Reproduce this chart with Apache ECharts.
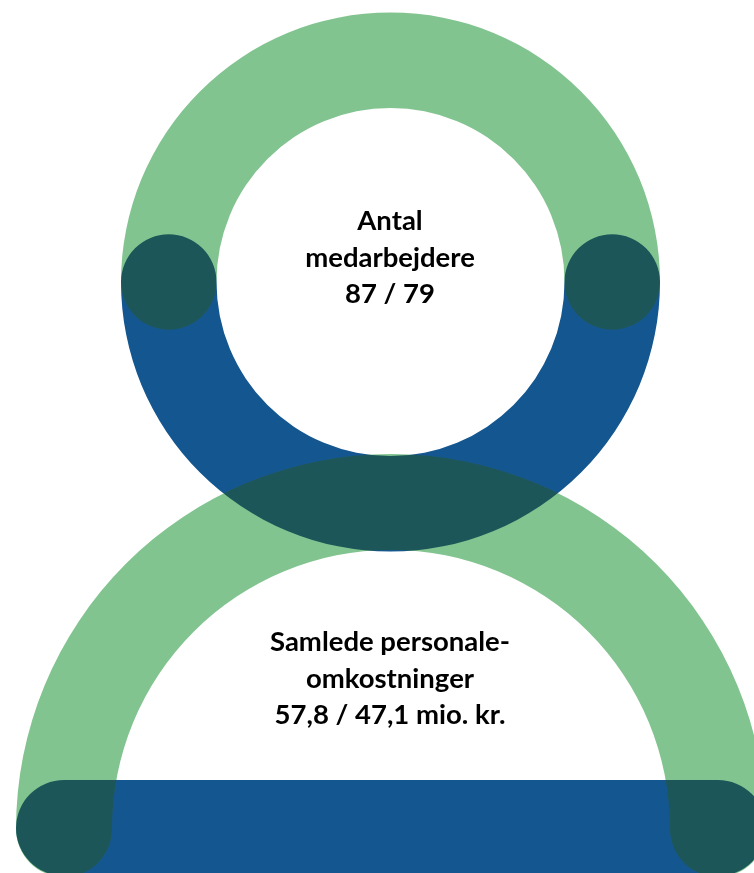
<!DOCTYPE html>
<html>
<head>
<meta charset="utf-8">
<style>
  html, body { margin: 0; padding: 0; background: #fff; overflow: hidden; }
  /* wider than the window: the body shape runs off the right and bottom edges */
  #chart { width: 800px; height: 900px; }
</style>
</head>
<body>
<div id="chart"></div>
<script src="https://cdn.jsdelivr.net/npm/echarts@6/dist/echarts.min.js"></script>
<script>
// share of each half ring, out of 100
const headTopShare = [50]
const headBottomShare = [50]
const bodyTopShare = [50]
// the flat base runs the full length of the axis
const baseShare = [100]

const headLabel = ['Antal', 'medarbejdere', '87 / 79']
const bodyLabel = ['Samlede personale-', 'omkostninger', '57,8 / 47,1 mio. kr.']

const GREEN = '#82c490'
const BLUE = '#14568f'
const DARK = '#1d5659'

const HEAD = { center: [390.5, 282], radius: [174, 269.5] }
const BODY = { center: [391, 829], radius: [279, 375] }

const polar = []
const angleAxis = []
const radiusAxis = []
const series = []

function addRing(shape, startAngle, values, color, blendMode, z) {
  const i = polar.length
  polar.push({ center: shape.center, radius: shape.radius })
  angleAxis.push({ polarIndex: i, show: false, startAngle, min: 0, max: 100 })
  radiusAxis.push({ polarIndex: i, show: false, type: 'category', data: [''] })
  series.push({
    type: 'bar',
    coordinateSystem: 'polar',
    polarIndex: i,
    data: values,
    barWidth: '100%',
    roundCap: true,
    silent: true,
    z,
    blendMode,
    itemStyle: { color },
  })
}

// blue shapes go down first
addRing(HEAD, 0, headBottomShare, BLUE, 'source-over', 2)
series.push({
  type: 'bar',
  xAxisIndex: 0,
  yAxisIndex: 0,
  data: baseShare,
  barWidth: '100%',
  silent: true,
  z: 2,
  itemStyle: { color: BLUE, borderRadius: 48 },
})
// green shapes: dark where they sit on blue, plain green behind everything else
addRing(HEAD, 180, headTopShare, DARK, 'source-atop', 3)
addRing(BODY, 180, bodyTopShare, DARK, 'source-atop', 3)
addRing(HEAD, 180, headTopShare, GREEN, 'destination-over', 4)
addRing(BODY, 180, bodyTopShare, GREEN, 'destination-over', 4)

const labelStyle = {
  color: '#000',
  fontFamily: 'Lato',
  fontWeight: 'bold',
  fontSize: 27.5,
  lineHeight: 36.5,
  align: 'center',
}

const chart = echarts.init(document.getElementById('chart'), null, { renderer: 'canvas' })
chart.setOption({
  animation: false,
  backgroundColor: 'transparent',
  tooltip: { show: false },
  title: [
    { text: headLabel.join('\n'), left: 390, top: 203, textAlign: 'center', padding: 0, textStyle: labelStyle, z: 10 },
    { text: bodyLabel.join('\n'), left: 390, top: 624, textAlign: 'center', padding: 0, textStyle: labelStyle, z: 10 },
  ],
  grid: { left: 16, top: 780, width: 750, height: 96 },
  xAxis: { type: 'value', show: false, min: 0, max: 100 },
  yAxis: { type: 'category', show: false, data: [''] },
  polar,
  angleAxis,
  radiusAxis,
  series,
})
</script>
</body>
</html>
